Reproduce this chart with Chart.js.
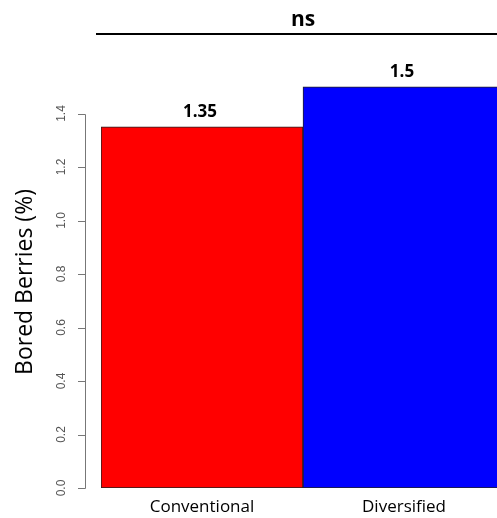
<!DOCTYPE html>
<html>
<head>
<meta charset="utf-8">
<script src="https://cdn.jsdelivr.net/npm/chart.js@4"></script>
<style>
  html, body { margin: 0; padding: 0; background: #fff; overflow: hidden; }
  #wrap { width: 497px; height: 518px; overflow: hidden; }
</style>
</head>
<body>
<div id="wrap"><canvas id="c" width="510" height="518"></canvas></div>
<script>
// Percentage of bored berries per vineyard management type
const categories = ['Conventional', 'Diversified'];
const boredBerries = [1.35, 1.5];
const barColors = ['#ff0000', '#0000ff'];
const yTicks = [0.0, 0.2, 0.4, 0.6, 0.8, 1.0, 1.2, 1.4];
const significance = 'ns';
const yTitle = 'Bored Berries (%)';

const labelFont = '"Open Sans", sans-serif';

// R-style decorations: detached y axis, value labels, category names, significance bar
const baseGraphics = {
  id: 'baseGraphics',
  afterDatasetsDraw(chart) {
    const ctx = chart.ctx;
    const y = chart.scales.y;
    const x = chart.scales.x;
    const axisX = 85;

    ctx.save();
    // y axis line and ticks
    ctx.strokeStyle = '#777';
    ctx.lineWidth = 1;
    ctx.beginPath();
    ctx.moveTo(axisX + 0.5, Math.round(y.getPixelForValue(yTicks[0])) + 0.5);
    ctx.lineTo(axisX + 0.5, Math.round(y.getPixelForValue(yTicks[yTicks.length - 1])) + 0.5);
    yTicks.forEach(t => {
      const py = Math.round(y.getPixelForValue(t)) + 0.5;
      ctx.moveTo(axisX + 0.5, py);
      ctx.lineTo(axisX - 7, py);
    });
    ctx.stroke();

    // rotated tick labels
    ctx.fillStyle = '#555';
    ctx.font = '12px "Liberation Sans", Arial, sans-serif';
    ctx.textAlign = 'center';
    ctx.textBaseline = 'middle';
    yTicks.forEach(t => {
      const py = y.getPixelForValue(t);
      ctx.save();
      ctx.translate(62, py);
      ctx.rotate(-Math.PI / 2);
      ctx.fillText(t.toFixed(1), 0, 0);
      ctx.restore();
    });

    // y axis title
    ctx.fillStyle = '#000';
    ctx.font = '23px ' + labelFont;
    ctx.save();
    ctx.translate(25, 282);
    ctx.rotate(-Math.PI / 2);
    ctx.fillText(yTitle, 0, 0);
    ctx.restore();

    // category names and value labels
    const meta = chart.getDatasetMeta(0);
    categories.forEach((c, i) => {
      const px = x.getPixelForValue(i);
      ctx.fillStyle = '#000';
      ctx.font = '17px ' + labelFont;
      ctx.fillText(c, px, 507);
      ctx.font = 'bold 17px ' + labelFont;
      ctx.fillText(String(boredBerries[i]), px - 2, meta.data[i].y - 15);
    });

    // significance bracket
    const x0 = x.getPixelForValue(0);
    const x1 = x.getPixelForValue(1);
    ctx.strokeStyle = '#000';
    ctx.lineWidth = 2;
    ctx.beginPath();
    ctx.moveTo(96, 34);
    ctx.lineTo(chart.width, 34);
    ctx.stroke();
    ctx.font = 'bold 21px ' + labelFont;
    ctx.fillText(significance, (x0 + x1) / 2, 20);
    ctx.restore();
  }
};

new Chart(document.getElementById('c'), {
  type: 'bar',
  data: {
    labels: categories,
    datasets: [{
      data: boredBerries,
      backgroundColor: barColors,
      borderColor: '#222',
      borderWidth: 1,
      borderSkipped: false,
      categoryPercentage: 1.0,
      barPercentage: 1.0
    }]
  },
  options: {
    responsive: false,
    animation: false,
    layout: { padding: { left: 101, right: 5, top: 60, bottom: 30 } },
    plugins: { legend: { display: false }, tooltip: { enabled: false } },
    scales: {
      x: { display: false },
      y: { display: false, min: 0, max: 1.6 }
    }
  },
  plugins: [baseGraphics]
});
</script>
</body>
</html>
